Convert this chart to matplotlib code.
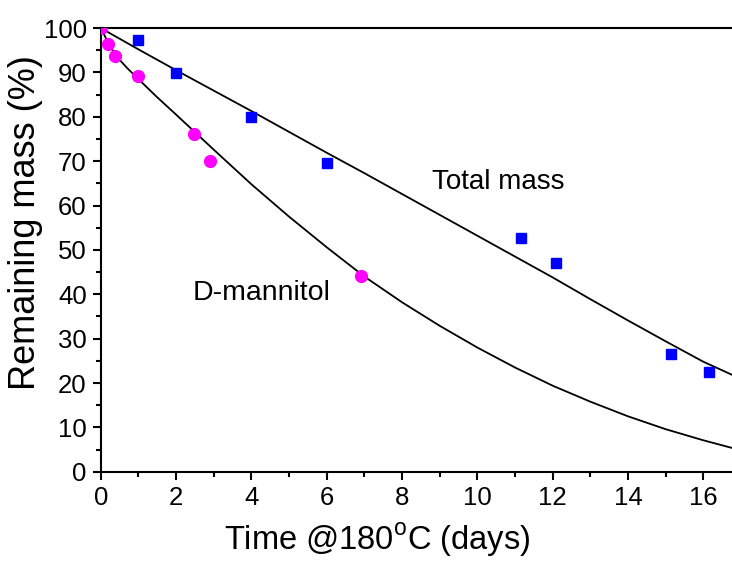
import matplotlib
matplotlib.use("Agg")
import matplotlib.pyplot as plt
from matplotlib.ticker import MultipleLocator

plt.rcParams['font.family'] = ['Liberation Sans', 'DejaVu Sans']

# Measured data points
total_t = [1.0, 2.0, 4.0, 6.0, 11.15, 12.1, 15.15, 16.15]
total_m = [97.2, 89.9, 80.0, 69.6, 52.8, 47.0, 26.5, 22.5]

mann_t = [0.0, 0.2, 0.38, 1.0, 2.48, 2.9, 6.91]
mann_m = [100.0, 96.4, 93.7, 89.2, 76.1, 70.0, 44.1]

# Fitted curves
fit_total_t = [0, 1, 2, 3, 4, 5, 6, 7, 8, 9, 10, 11, 12, 13, 14, 15, 16, 16.75]
fit_total_m = [100, 95.2, 90.5, 85.9, 81.3, 76.6, 71.9, 67.3, 62.6, 57.9, 53.2, 48.5, 43.8, 38.9, 34.1, 29.4, 24.8, 21.9]

fit_mann_t = [0, 0.2, 0.4, 0.7, 1, 1.5, 2, 3, 4, 5, 6, 7, 8, 9, 10, 11, 12, 13, 14, 15, 16, 16.75]
fit_mann_m = [100, 96.7, 93.8, 91.0, 88.5, 84.4, 80.5, 72.6, 64.8, 57.5, 50.6, 44.0, 38.2, 32.9, 28.0, 23.5, 19.4, 15.8, 12.5, 9.6, 7.1, 5.4]

fig = plt.figure(figsize=(7.32, 5.61), dpi=100)
ax = fig.add_axes([0.1376, 0.159, 0.8624, 0.791])

ax.plot(fit_total_t, fit_total_m, color='black', lw=1.3, zorder=2)
ax.plot(fit_mann_t, fit_mann_m, color='black', lw=1.3, zorder=2)
ax.plot(total_t, total_m, 's', color='#0000ff', ms=7.5, mec='#0000ff', zorder=3)
ax.plot(mann_t, mann_m, 'o', color='#ff00ff', ms=8.5, mec='#ff00ff', zorder=3)

ax.set_xlim(0, 16.76)
ax.set_ylim(0, 100)
ax.xaxis.set_major_locator(MultipleLocator(2))
ax.xaxis.set_minor_locator(MultipleLocator(1))
ax.yaxis.set_major_locator(MultipleLocator(10))
ax.yaxis.set_minor_locator(MultipleLocator(5))

ax.spines['right'].set_visible(False)
for s in ['top', 'left', 'bottom']:
    ax.spines[s].set_linewidth(1.5)
ax.tick_params(which='both', direction='out', width=1.5, top=False, right=False)
ax.tick_params(which='major', length=6, labelsize=18.5, pad=4)
ax.tick_params(which='minor', length=3.5)

ax.set_xlabel('Time @180$^{\\mathregular{o}}$C (days)', fontsize=23.5)
ax.set_ylabel('Remaining mass (%)', fontsize=26)
ax.xaxis.set_label_coords(0.438, -0.112)
ax.yaxis.set_label_coords(-0.092, 0.562)

ax.text(10.55, 65.3, 'Total mass', fontsize=20, ha='center', va='center')
ax.text(4.28, 40.3, 'D-mannitol', fontsize=20.5, ha='center', va='center')

fig.savefig('out.png', dpi=100)
